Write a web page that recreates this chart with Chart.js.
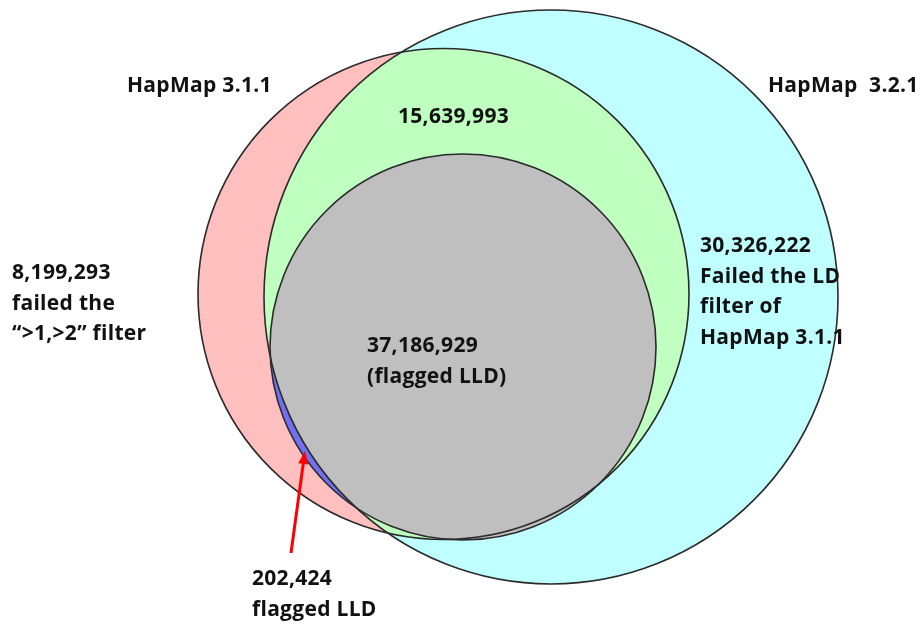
<!DOCTYPE html>
<html>
<head>
<meta charset="utf-8">
<title>HapMap Venn</title>
<script src="https://cdn.jsdelivr.net/npm/chart.js@4.4.1/dist/chart.umd.min.js"></script>
<style>
  html, body { margin: 0; padding: 0; background: #fff; }
  #venn { display: block; }
</style>
</head>
<body>
<canvas id="venn" width="923" height="624"></canvas>
<script>
// sets drawn as circles: centre and radius in plot units
const setNames = ['HapMap 3.1.1', 'HapMap 3.2.1', 'flagged LLD'];
const centerX = [443.5, 551, 463];
const centerY = [294, 297, 347];
const radius = [245.5, 287, 193];

// region counts
const regionCounts = ['8,199,293', '15,639,993', '30,326,222', '37,186,929', '202,424'];

const setColors = ['#ffbfbf', '#bfffff', '#bfbfbf'];
const overlapColor = '#bfffbf';
const onlyOldLLDColor = '#7070f0';

// text blocks: [x, baseline y, lines]
const labels = [
    [127, 92, ['HapMap 3.1.1']],
    [768, 92, ['HapMap  3.2.1']],
    [398, 123, [regionCounts[1]]],
    [12, 279, [regionCounts[0], 'failed the', '\u201c>1,>2\u201d filter']],
    [700, 252, [regionCounts[2], 'Failed the LD', 'filter of', 'HapMap 3.1.1']],
    [367, 352, [regionCounts[3], '(flagged LLD)']],
    [252, 585, [regionCounts[4], 'flagged LLD']]
];

const vennPlugin = {
    id: 'venn',
    beforeDatasetsDraw(chart) {
        const ctx = chart.ctx;
        const xs = chart.scales.x, ys = chart.scales.y;

        function circle(i) {
            const cx = xs.getPixelForValue(centerX[i]);
            const cy = ys.getPixelForValue(centerY[i]);
            const r = xs.getPixelForValue(centerX[i] + radius[i]) - cx;
            ctx.beginPath();
            ctx.arc(cx, cy, r, 0, Math.PI * 2);
        }

        ctx.save();
        // pink, then cyan on top
        circle(0); ctx.fillStyle = setColors[0]; ctx.fill();
        circle(1); ctx.fillStyle = setColors[1]; ctx.fill();
        // pink ∩ cyan in green
        ctx.save();
        circle(1); ctx.clip();
        circle(0); ctx.fillStyle = overlapColor; ctx.fill();
        ctx.restore();
        // flagged LLD: blue outside 3.2.1, gray inside it
        circle(2); ctx.fillStyle = onlyOldLLDColor; ctx.fill();
        ctx.save();
        circle(1); ctx.clip();
        circle(2); ctx.fillStyle = setColors[2]; ctx.fill();
        ctx.restore();
        // outlines
        ctx.strokeStyle = '#2b2b2b';
        ctx.lineWidth = 1.6;
        for (let i = 0; i < setNames.length; i++) { circle(i); ctx.stroke(); }
        ctx.restore();
    },
    afterDatasetsDraw(chart) {
        const ctx = chart.ctx;
        const xs = chart.scales.x, ys = chart.scales.y;
        ctx.save();

        // red arrow to the small blue region
        const x0 = xs.getPixelForValue(291), y0 = ys.getPixelForValue(553);
        const x1 = xs.getPixelForValue(305), y1 = ys.getPixelForValue(451);
        const ang = Math.atan2(y1 - y0, x1 - x0);
        ctx.strokeStyle = '#ff0000';
        ctx.fillStyle = '#ff0000';
        ctx.lineWidth = 3;
        ctx.beginPath();
        ctx.moveTo(x0, y0);
        ctx.lineTo(x1 - 10 * Math.cos(ang), y1 - 10 * Math.sin(ang));
        ctx.stroke();
        ctx.beginPath();
        ctx.moveTo(x1, y1);
        ctx.lineTo(x1 - 13 * Math.cos(ang) + 5 * Math.sin(ang), y1 - 13 * Math.sin(ang) - 5 * Math.cos(ang));
        ctx.lineTo(x1 - 13 * Math.cos(ang) - 5 * Math.sin(ang), y1 - 13 * Math.sin(ang) + 5 * Math.cos(ang));
        ctx.closePath();
        ctx.fill();

        // text
        ctx.fillStyle = '#111';
        ctx.font = 'bold 21px "Open Sans", Lato, sans-serif';
        ctx.letterSpacing = '0.3px';
        ctx.textAlign = 'left';
        ctx.textBaseline = 'alphabetic';
        labels.forEach(([x, y, lines]) => {
            lines.forEach((t, k) => {
                ctx.fillText(t, xs.getPixelForValue(x), ys.getPixelForValue(y + k * 30.5));
            });
        });
        ctx.restore();
    }
};

new Chart(document.getElementById('venn'), {
    type: 'scatter',
    data: {
        datasets: setNames.map((name, i) => ({
            label: name,
            data: [{ x: centerX[i], y: centerY[i] }],
            pointRadius: 0,
            pointHoverRadius: 0
        }))
    },
    options: {
        responsive: false,
        animation: false,
        layout: { padding: 0 },
        plugins: { legend: { display: false }, tooltip: { enabled: false } },
        scales: {
            x: { type: 'linear', min: 0, max: 923, display: false },
            y: { type: 'linear', min: 0, max: 624, reverse: true, display: false }
        }
    },
    plugins: [vennPlugin]
});
</script>
</body>
</html>
